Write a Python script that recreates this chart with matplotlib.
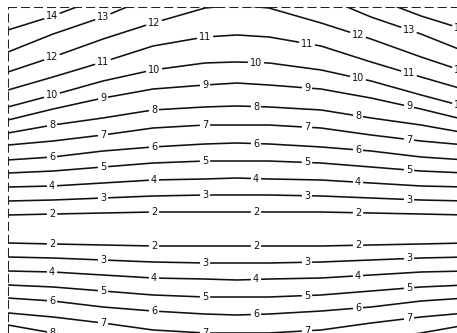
import numpy as np
import matplotlib
matplotlib.use("Agg")
import matplotlib.pyplot as plt

# contour values, z = 1 on the centre line
levels = [1, 2, 3, 4, 5, 6, 7, 8, 9, 10, 11, 12, 13, 14, 15]

col_off = [0, 32, 84, 134, 184, 229]

# distance of each level from the centre line, one row per level
dist = [
    [0, 0, 0, 0, 0, 0],
    [17, 17, 17, 16, 15, 14],
    [34, 34, 33, 31, 29, 28],
    [51, 50, 49, 46, 43, 42],
    [68, 68, 66, 62, 58, 56],
    [86, 85, 82, 78, 72, 69],
    [104, 104, 101, 94, 88, 84],
    [123, 122, 119, 111, 104, 96],
    [146, 144, 140, 131, 120, 109],
    [167, 166, 159, 148, 134, 122],
    [194, 192, 183, 167, 152, 139],
    [224, 221, 206, 190, 172, 157],
    [252, 246, 233, 212, 195, 177],
    [278, 272, 256, 232, 213, 199],
    [305, 298, 280, 255, 235, 224],
]

draw_levels = [2, 3, 4, 5, 6, 7, 8, 9, 10, 11, 12, 13, 14]

# label columns (offset from centre), even / odd levels alternate
even_label_x = [-185, -83, 19, 121]
odd_label_x = [-134, -32, 70, 172]
# only the top levels show a cut-off label at the right edge
edge_label_x = 223
edge_label_levels = [10, 12, 14]

#----------BUILD FIELD----------
xg = np.linspace(-229, 232, 462)
yg = np.linspace(-230, 230, 461)
z = np.zeros((len(yg), len(xg)))
for i, xi in enumerate(xg):
    d_at_x = [np.interp(abs(xi), col_off, row) for row in dist]
    z[:, i] = np.interp(np.abs(yg), d_at_x, levels)

#----------PLOT----------
fig = plt.figure(figsize=(4.57, 3.33), dpi=100)
# axes run past the right and bottom edge of the picture
ax = fig.add_axes([8 / 457, -118 / 333, 461 / 457, 444 / 333])
ax.set_xlim(-229, 232)
ax.set_ylim(-222, 222)

cs = ax.contour(xg, yg, z, levels=draw_levels, colors="#111111", linewidths=1.15)

positions = []
for lev in draw_levels:
    row = dist[levels.index(lev)]
    xs = list(even_label_x if lev % 2 == 0 else odd_label_x)
    if lev in edge_label_levels:
        xs.append(edge_label_x)
    for lx in xs:
        d = np.interp(abs(lx), col_off, row)
        if d > 216:
            continue
        positions.append((lx, d))
        if d < 110:
            positions.append((lx, -d))

ax.clabel(cs, fmt="%d", fontsize=7, inline=True, inline_spacing=2,
          manual=positions, colors="#111111")
for t in cs.labelTexts:
    t.set_rotation(0)

ax.set_xticks([])
ax.set_yticks([])
for side in ["right", "bottom"]:
    ax.spines[side].set_visible(False)
for side in ["left", "top"]:
    ax.spines[side].set_linewidth(0.75)
    ax.spines[side].set_color("#222222")
    ax.spines[side].set_linestyle((0, (7.7, 4.8)))

fig.savefig("out.png", dpi=100)
